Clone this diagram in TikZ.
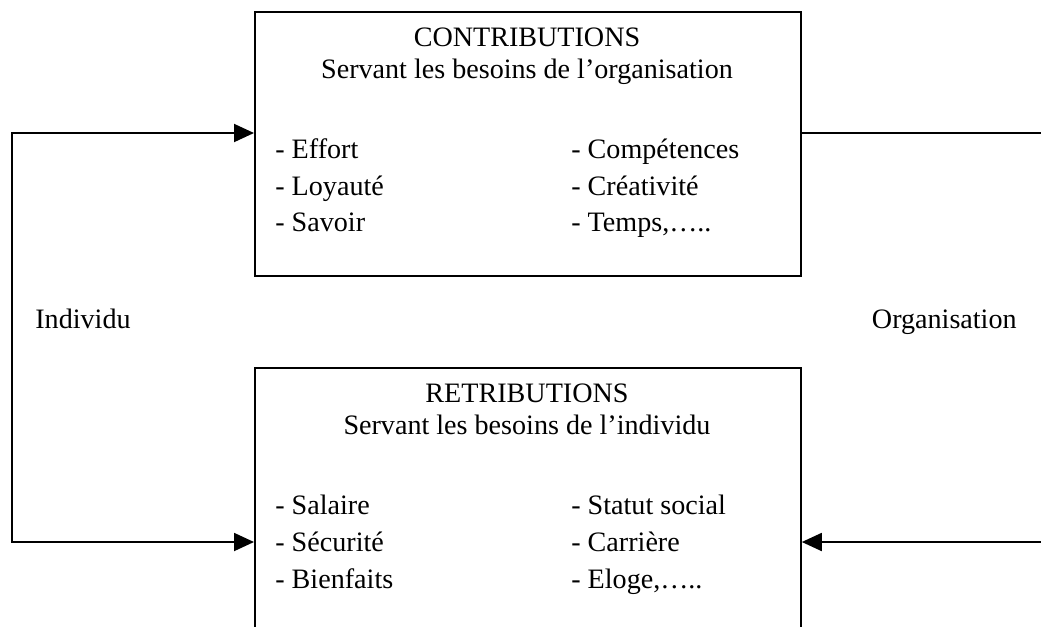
\documentclass[tikz,border=0pt]{standalone}
\usepackage{fontspec}
\setmainfont{Liberation Serif}
\usetikzlibrary{arrows.meta}

\begin{document}
\begin{tikzpicture}[
			x=0.02cm, y=-0.02cm,
			boite/.style={draw, line width=1.1pt, minimum width=10.92cm, minimum height=5.28cm, anchor=north west, inner sep=0pt},
			texte/.style={font=\fontsize{16}{19}\selectfont, anchor=base, inner sep=0pt},
			item/.style={texte, anchor=base west},
			trait/.style={line width=1.1pt},
			fleche/.style={trait, -{Triangle[length=4mm,width=3.6mm]}},
			fleches/.style={trait, {Triangle[length=4mm,width=3.6mm]}-{Triangle[length=4mm,width=3.6mm]}}
			]

				\useasboundingbox (0,0) rectangle (1041,626);
				\clip (0,0) rectangle (1041,626);

				% les deux cadres
				\node[boite] (contrib) at (254,11) {};
				\node[boite] (retrib) at (254,367) {};

				\node[texte] (titreC) at (527,46) {CONTRIBUTIONS};
				\node[texte] (sousC) at (527,78) {Servant les besoins de l’organisation};
				\node[item] (c1) at (275,158) {- Effort};
				\node[item] (c2) at (275,195) {- Loyauté};
				\node[item] (c3) at (275,231) {- Savoir};
				\node[item] (c4) at (571,158) {- Compétences};
				\node[item] (c5) at (571,195) {- Créativité};
				\node[item] (c6) at (571,231) {- Temps,…..};

				\node[texte] (titreR) at (527,402) {RETRIBUTIONS};
				\node[texte] (sousR) at (527,434) {Servant les besoins de l’individu};
				\node[item] (r1) at (275,514) {- Salaire};
				\node[item] (r2) at (275,551) {- Sécurité};
				\node[item] (r3) at (275,588) {- Bienfaits};
				\node[item] (r4) at (571,514) {- Statut social};
				\node[item] (r5) at (571,551) {- Carrière};
				\node[item] (r6) at (571,588) {- Eloge,…..};

				% les boucles
				\coordinate (gh) at (12,133);
				\coordinate (gb) at (12,542);
				\coordinate (dh) at (1041,133);
				\coordinate (db) at (1041,542);

				\draw[fleches] (contrib.west |- gh) -- (gh) -- (gb) -- (retrib.west |- gb);
				\draw[trait] (contrib.east |- dh) -- (dh);
				\draw[fleche] (db) -- (retrib.east |- db);

				\node[item] (indiv) at (35,328) {Individu};
				\node[texte, anchor=base east] (orga) at (1017,328) {Organisation};

			\end{tikzpicture}
\end{document}
